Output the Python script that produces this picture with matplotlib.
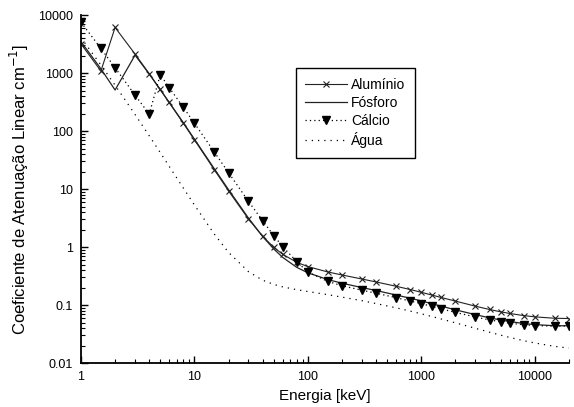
import numpy as np
import matplotlib
matplotlib.use("Agg")
import matplotlib.pyplot as plt
from matplotlib.ticker import LogLocator, NullFormatter, FixedLocator, FixedFormatter

plt.rcParams['font.family'] = ['Liberation Sans', 'DejaVu Sans']

# Energias (keV)
energia = [1, 1.5, 2, 3, 4, 5, 6, 8, 10, 15, 20, 30, 40, 50, 60, 80, 100,
           150, 200, 300, 400, 600, 800, 1000, 1250, 1500, 2000, 3000,
           4000, 5000, 6000, 8000, 10000, 15000, 20000]

# Coeficiente de atenuacao linear (cm^-1)
aluminio = [3198, 1085, 6108, 2127, 973, 522, 311, 136, 70.8, 21.5, 9.29,
            3.04, 1.53, 0.994, 0.750, 0.545, 0.460, 0.372, 0.330, 0.281,
            0.250, 0.211, 0.185, 0.166, 0.148, 0.135, 0.117, 0.0956,
            0.0838, 0.0765, 0.0717, 0.0658, 0.0626, 0.0592, 0.0585]

fosforo = [3482, 1183, 510, 2035, 963, 517, 311, 139, 72.8, 22.3, 9.76,
           3.15, 1.52, 0.930, 0.664, 0.446, 0.360, 0.275, 0.238, 0.200,
           0.178, 0.149, 0.131, 0.118, 0.105, 0.0957, 0.0828, 0.0683,
           0.0602, 0.0553, 0.0521, 0.0480, 0.0460, 0.0440, 0.0439]

calcio = [7544, 2657, 1236, 416, 196, 934, 561, 256, 137, 43.4, 19.2,
          6.12, 2.84, 1.58, 1.02, 0.558, 0.372, 0.256, 0.215, 0.180,
          0.160, 0.134, 0.117, 0.106, 0.0944, 0.0860, 0.0747, 0.0622,
          0.0555, 0.0515, 0.0488, 0.0457, 0.0443, 0.0432, 0.0437]

agua = [4078, 1376, 617, 193, 82.8, 42.6, 24.6, 10.4, 5.33, 1.67, 0.810,
        0.376, 0.268, 0.227, 0.206, 0.184, 0.171, 0.151, 0.137, 0.119,
        0.106, 0.0896, 0.0787, 0.0707, 0.0632, 0.0575, 0.0494, 0.0397,
        0.0340, 0.0303, 0.0277, 0.0243, 0.0222, 0.0194, 0.0181]

fig = plt.figure(figsize=(5.74, 4.07), dpi=100)
ax = fig.add_axes([0.141, 0.108, 0.850, 0.855])

ax.plot(energia, aluminio, color='#222222', lw=0.8, marker='x', ms=4,
        mew=0.8, label='Alumínio')
ax.plot(energia, fosforo, color='#222222', lw=0.9, label='Fósforo')
ax.plot(energia, calcio, color='black', lw=0.9, ls=(0, (1, 2.5)),
        marker='v', ms=6, mfc='black', mec='black', label='Cálcio')
ax.plot(energia, agua, color='black', lw=0.9, ls=(0, (1, 4)), label='Água')

ax.set_xscale('log')
ax.set_yscale('log')
ax.set_xlim(1, 20000)
ax.set_ylim(0.01, 10000)

xt = [1, 10, 100, 1000, 10000]
ax.xaxis.set_major_locator(FixedLocator(xt))
ax.xaxis.set_major_formatter(FixedFormatter([str(v) for v in xt]))
ax.xaxis.set_minor_locator(LogLocator(base=10, subs=np.arange(2, 10), numticks=20))
ax.xaxis.set_minor_formatter(NullFormatter())

yt = [0.01, 0.1, 1, 10, 100, 1000, 10000]
ax.yaxis.set_major_locator(FixedLocator(yt))
ax.yaxis.set_major_formatter(FixedFormatter(['0.01', '0.1', '1', '10', '100', '1000', '10000']))
ax.yaxis.set_minor_locator(LogLocator(base=10, subs=np.arange(2, 10), numticks=20))
ax.yaxis.set_minor_formatter(NullFormatter())

ax.spines['top'].set_visible(False)
ax.spines['right'].set_visible(False)
ax.spines['left'].set_linewidth(1.3)
ax.spines['bottom'].set_linewidth(1.3)
ax.tick_params(which='major', direction='in', length=5, width=1, labelsize=9, pad=6)
ax.tick_params(which='minor', direction='in', length=3, width=0.8)

ax.set_xlabel('Energia [keV]', fontsize=11, labelpad=4)
ax.set_ylabel('Coeficiente de Atenuação Linear cm$^{-1}$]', fontsize=12, labelpad=5)

leg = ax.legend(loc='upper left', bbox_to_anchor=(0.44, 0.848), borderaxespad=0,
                fontsize=10, numpoints=1, handlelength=3.0, handletextpad=0.3,
                labelspacing=0.3, borderpad=0.7, fancybox=False, framealpha=1,
                edgecolor='black')
leg.get_frame().set_linewidth(1.0)

fig.savefig('out.png', dpi=100)
